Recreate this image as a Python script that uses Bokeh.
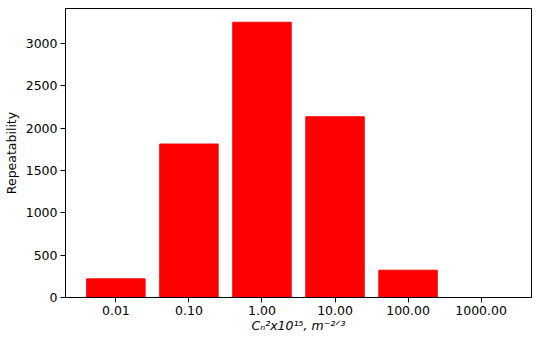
from bokeh.plotting import figure
from bokeh.models import Range1d, FixedTicker, ColumnDataSource
from bokeh.embed import file_html
from bokeh.resources import INLINE

categories = ["0.01", "0.10", "1.00", "10.00", "100.00", "1000.00"]
repeatability = [220, 1812, 3250, 2134, 322, 0]
y_ticks = [0, 500, 1000, 1500, 2000, 2500, 3000]

xpos = list(range(len(categories)))
src = ColumnDataSource(dict(x=xpos, top=repeatability))

p = figure(width=534, height=335, output_backend="svg", toolbar_location=None,
           x_range=Range1d(-0.69, len(categories) - 1 + 0.69),
           y_range=Range1d(0, max(repeatability) * 1.05),
           min_border_left=54, min_border_right=3, min_border_top=8, min_border_bottom=38)

p.vbar(x="x", top="top", width=0.8, bottom=0, source=src, color="#ff0000")

p.xgrid.visible = False
p.ygrid.visible = False
p.outline_line_color = "black"
p.outline_line_width = 1
p.outline_line_alpha = 1

p.xaxis.ticker = FixedTicker(ticks=xpos)
p.xaxis.major_label_overrides = {i: c for i, c in enumerate(categories)}
p.yaxis.ticker = FixedTicker(ticks=y_ticks)

for ax in (p.xaxis[0], p.yaxis[0]):
    ax.axis_line_color = "black"
    ax.major_tick_line_color = "black"
    ax.major_tick_out = 5
    ax.major_tick_in = 0
    ax.minor_tick_line_color = None
    ax.major_label_text_font = "DejaVu Sans"
    ax.major_label_text_font_size = "12.5px"
    ax.major_label_text_color = "black"
    ax.axis_label_text_font = "DejaVu Sans"
    ax.axis_label_text_font_size = "12.5px"
    ax.axis_label_text_font_style = "normal"
    ax.axis_label_text_color = "black"

p.yaxis.axis_label = "Repeatability"
p.xaxis.axis_label = "Cₙ²x10¹⁵, m⁻²ᐟ³"
p.xaxis.axis_label_text_font_style = "italic"
p.xaxis.axis_label_standoff = 0
p.yaxis.axis_label_standoff = 4
p.xaxis.major_label_standoff = 3
p.yaxis.major_label_standoff = 3

open("out.html", "w").write(file_html(p, INLINE))
